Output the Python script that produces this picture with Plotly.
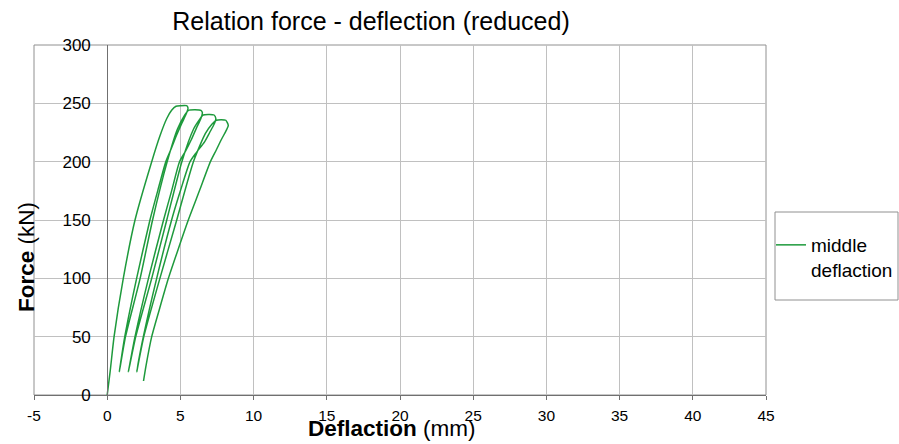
import plotly.graph_objects as go

# Branches of the force-deflection path (deflection mm, force kN)
load1_x = [0.0, 0.2, 0.47, 1.1, 1.9, 3.04, 3.6, 4.07, 4.4, 4.7, 5.0, 5.43, 5.52]
load1_y = [0, 20, 50, 100, 150, 200, 222, 237, 244, 247.5, 248, 248, 246]
unload1_x = [5.4, 5.1, 4.75, 4.4, 4.0, 3.45, 2.92, 2.01, 1.2, 0.83]
unload1_y = [241, 233, 223, 212, 200, 175, 150, 100, 50, 20]
load2_x = [1.25, 2.25, 3.1, 4.1, 4.8, 5.3, 5.55, 6.0, 6.4, 6.5]
load2_y = [50, 100, 150, 200, 228, 240, 244, 244.5, 244, 242]
unload2_x = [6.4, 6.1, 5.75, 5.35, 4.94, 4.4, 3.85, 2.82, 1.9, 1.45]
unload2_y = [237, 229, 219, 209, 200, 175, 150, 100, 50, 20]
load3_x = [1.95, 3.04, 4.07, 5.1, 5.9, 6.3, 6.55, 7.0, 7.3, 7.42]
load3_y = [50, 100, 150, 200, 228, 236, 240, 240.5, 240, 237]
unload3_x = [7.3, 7.0, 6.65, 6.1, 5.66, 5.0, 4.4, 3.38, 2.47, 2.02]
unload3_y = [232, 225, 217, 208, 200, 175, 150, 100, 50, 20]
load4_x = [2.5, 3.6, 4.75, 5.89, 6.7, 7.15, 7.45, 7.8, 8.1, 8.27]
load4_y = [50, 100, 150, 200, 224, 232, 235.5, 236, 235.5, 231]
unload4_x = [8.1, 7.8, 7.45, 7.05, 6.3, 5.54, 4.85, 4.18, 3.6, 3.04, 2.65, 2.48]
unload4_y = [226, 219, 210, 200, 175, 150, 125, 100, 75, 50, 25, 12]

x_ticks = [-5, 0, 5, 10, 15, 20, 25, 30, 35, 40, 45]
x_tick_text = ["-5", "0", "5", "10", "15", "20", "25", "30", "35", "40", "45"]
y_ticks = [0, 50, 100, 150, 200, 250, 300]

xs = load1_x + unload1_x + load2_x + unload2_x + load3_x + unload3_x + load4_x + unload4_x
ys = load1_y + unload1_y + load2_y + unload2_y + load3_y + unload3_y + load4_y + unload4_y

FONT = "Liberation Sans, Arial, sans-serif"
W, H = 899, 444
L, R, T, B = 34, 133, 45, 49
pw, ph = W - L - R, H - T - B

def px_x(p):
    return (p - L) / pw

def px_y(p):
    return (H - B - p) / ph

fig = go.Figure()
fig.add_trace(go.Scatter(
    x=xs, y=ys, mode="lines", name="middle<br>deflaction",
    line=dict(color="#1e9a3c", width=1.5, shape="spline", smoothing=0.6),
))

fig.update_layout(
    width=W, height=H,
    margin=dict(l=L, r=R, t=T, b=B, autoexpand=False),
    paper_bgcolor="white", plot_bgcolor="white",
    font=dict(family=FONT, color="black"),
    title=dict(text="Relation force - deflection (reduced)", x=371 / W, xanchor="center",
               xref="container", yref="container", y=1 - 21 / H, yanchor="middle",
               font=dict(size=25, family=FONT, color="black")),
    xaxis=dict(range=[-5, 45], tickvals=x_ticks, ticktext=x_tick_text, showgrid=True,
               gridcolor="#c0c0c0", gridwidth=1,
               zeroline=False, showline=True, linecolor="#707070", linewidth=1,
               ticks="outside", ticklen=4, tickcolor="#707070", automargin=False,
               tickfont=dict(size=15.5, family=FONT, color="black"), ticklabelstandoff=2),
    yaxis=dict(range=[0, 300], tickvals=y_ticks, showgrid=True, gridcolor="#c0c0c0", gridwidth=1,
               zeroline=False, showline=True, linecolor="#707070", linewidth=1,
               anchor="free", position=0.1, ticks="", automargin=False,
               tickfont=dict(size=17, family=FONT, color="black"), ticklabelstandoff=13),
    showlegend=True,
    legend=dict(x=px_x(771), y=px_y(226), xanchor="left", yanchor="top",
                bgcolor="rgba(0,0,0,0)", borderwidth=0, valign="top",
                font=dict(size=19, family=FONT, color="black")),
    shapes=[
        dict(type="rect", xref="paper", yref="paper", x0=0, x1=1, y0=0, y1=1,
             line=dict(color="#909090", width=1), layer="below"),
        dict(type="rect", xref="paper", yref="paper", x0=px_x(775), x1=px_x(898),
             y0=px_y(300), y1=px_y(212), line=dict(color="#909090", width=1)),
    ],
    annotations=[
        dict(text="<b>Deflaction</b> (mm)", xref="paper", yref="paper",
             x=px_x(392), y=px_y(443), xanchor="center", yanchor="bottom", showarrow=False,
             font=dict(size=22.5, family=FONT, color="black")),
        dict(text="<b>Force</b> (kN)", xref="paper", yref="paper", textangle=-90,
             x=px_x(26), y=px_y(257), xanchor="center", yanchor="middle", showarrow=False,
             font=dict(size=22.5, family=FONT, color="black")),
    ],
)

fig.write_html("out.html")
